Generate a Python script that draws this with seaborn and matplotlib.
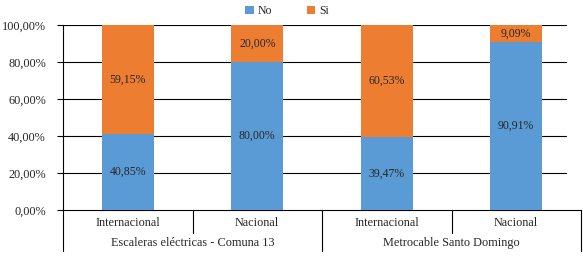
import matplotlib
matplotlib.use("Agg")
import matplotlib.pyplot as plt
import matplotlib.transforms as mtransforms
from matplotlib.patches import Patch
import seaborn as sns
import pandas as pd

# ---- data ----
groups = ["Escaleras eléctricas - Comuna 13", "Metrocable Santo Domingo"]
subcats = ["Internacional", "Nacional", "Internacional", "Nacional"]
keys = ["E-Int", "E-Nac", "M-Int", "M-Nac"]
no_vals = [40.85, 80.00, 39.47, 90.91]
si_vals = [59.15, 20.00, 60.53, 9.09]
yticks = [0, 20, 40, 60, 80, 100]

BLUE = "#5B9BD5"
ORANGE = "#ED7D31"
TXT = "#262626"
FS_AX = 8.8
FS_LBL = 8.5

sns.set_theme(style="white")
plt.rcParams["font.family"] = ["Liberation Serif", "DejaVu Serif"]
plt.rcParams["font.size"] = FS_AX

df = pd.DataFrame({"key": keys, "no": no_vals, "si": si_vals})
df["total"] = df["no"] + df["si"]

fig = plt.figure(figsize=(5.83, 2.56), dpi=100)
ax = fig.add_axes([63 / 583, (256 - 210) / 256, (581 - 63) / 583, 185 / 256])

sns.barplot(data=df, x="key", y="total", color=ORANGE, width=0.4, ax=ax,
            saturation=1, zorder=3, linewidth=0)
sns.barplot(data=df, x="key", y="no", color=BLUE, width=0.4, ax=ax,
            saturation=1, zorder=3, linewidth=0)

ax.set_ylim(0, 100)
ax.set_xlim(-0.5, 3.5)
ax.set_yticks(yticks)
ax.set_yticklabels([f"{v:.2f}".replace(".", ",") + "%" for v in yticks],
                   color=TXT, fontsize=FS_AX)
ax.tick_params(axis="y", length=4.3, width=0.8, color="black", pad=8, left=True)
ax.set_xticks([])
ax.set_xlabel("")
ax.set_ylabel("")

for s in ["top", "right"]:
    ax.spines[s].set_visible(False)
for s in ["left", "bottom"]:
    ax.spines[s].set_color("black")
    ax.spines[s].set_linewidth(0.8)

gx = (566 - 63) / (581 - 63)
for v in yticks[1:]:
    ax.axhline(v, xmin=0, xmax=gx, color="black", linewidth=0.8, zorder=1)

# data labels
for i, (n, s) in enumerate(zip(no_vals, si_vals)):
    ax.text(i, n / 2, f"{n:.2f}".replace(".", ",") + "%", ha="center",
            va="center", color=TXT, fontsize=FS_LBL, zorder=5)
    ax.text(i, n + s / 2, f"{s:.2f}".replace(".", ",") + "%", ha="center",
            va="center", color=TXT, fontsize=FS_LBL, zorder=5)

# multi-level category axis
trans = mtransforms.blended_transform_factory(ax.transData, ax.transAxes)
short = -23 / 185
long_ = -41 / 185
for xpos in [-0.5, 1.5, 3.5]:
    ax.plot([xpos, xpos], [0, long_], transform=trans, color="black",
            linewidth=0.8, clip_on=False)
for xpos in [0.5, 2.5]:
    ax.plot([xpos, xpos], [0, short], transform=trans, color="black",
            linewidth=0.8, clip_on=False)
for i, lab in enumerate(subcats):
    ax.text(i, -13 / 185, lab, transform=trans, ha="center", va="center",
            color=TXT, fontsize=FS_AX)
for g, lab in enumerate(groups):
    ax.text(2 * g + 0.5, -33 / 185, lab, transform=trans, ha="center",
            va="center", color=TXT, fontsize=FS_AX)

handles = [Patch(facecolor=BLUE, edgecolor="none", label="No"),
           Patch(facecolor=ORANGE, edgecolor="none", label="Si")]
fig.legend(handles=handles, loc="center", bbox_to_anchor=(287 / 583, 1 - 11 / 256),
           ncol=2, frameon=False, handlelength=0.7, handleheight=0.7,
           handletextpad=0.3, columnspacing=3.0, fontsize=FS_LBL,
           labelcolor=TXT)

fig.savefig("out.png", dpi=100)
